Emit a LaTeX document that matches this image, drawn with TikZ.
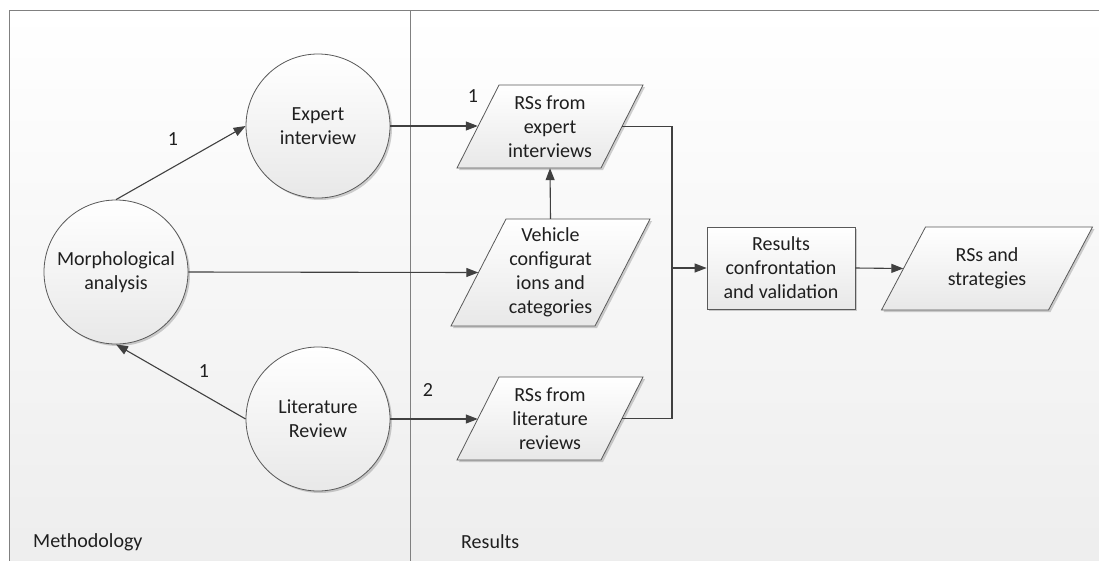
\documentclass[tikz,border=0pt]{standalone}
\usepackage{fontspec}
\setmainfont{Carlito}
\usetikzlibrary{arrows.meta,shadows}
\newcommand{\paraNode}[7]{% name, cx, cy, w, h, s, text
  \path[parfill] (#2-#4/2+#6/2, #3-#5/2) -- (#2+#4/2+#6/2, #3-#5/2) -- (#2+#4/2-#6/2, #3+#5/2) -- (#2-#4/2-#6/2, #3+#5/2) -- cycle;
  \node[txt, minimum width=#4pt, minimum height=#5pt, inner sep=0pt] (#1) at (#2,#3) {#7};
}
\begin{document}
\begin{tikzpicture}[x=1pt,y=-1pt,
  txt/.style={font=\fontsize{20}{24}\selectfont, text=black!88, align=center},
  shp/.style={draw=black!65, line width=0.8pt, top color=white, bottom color=black!9,
    drop shadow={shadow xshift=2pt, shadow yshift=-2pt, opacity=0.18, fill=black}},
  circ/.style={circle, shp, minimum size=144pt, inner sep=0pt, txt},
  parfill/.style={shp},
  boxst/.style={rectangle, shp, minimum width=148pt, minimum height=82pt, inner sep=0pt, txt},
  conn/.style={draw=black!75, line width=1.1pt},
  arr/.style={conn, -{Triangle[length=12pt,width=9pt]}},
  lbl/.style={txt, inner sep=0pt}
]
\useasboundingbox (0,0) rectangle (1099,560);
\clip (0,0) rectangle (1099,560);
% frame
\path[top color=white, bottom color=black!7] (9.5,10.5) rectangle (1110,570);
\draw[draw=black!50, line width=1pt] (1110,10.5) -- (9.5,10.5) -- (9.5,570);
\draw[draw=black!50, line width=1pt] (410.5,10.5) -- (410.5,570);
\node[lbl, anchor=west] (meth) at (33,542) {Methodology};
\node[lbl, anchor=west] (res) at (461,542) {Results};
% circles
\node[circ] (exp) at (318,126) {Expert\\interview};
\node[circ] (mor) at (116,272) {Morphological\\analysis};
\node[circ] (lit) at (318,419) {Literature\\Review};
% parallelograms
\paraNode{rse}{550}{126.5}{144}{83}{42}{RSs from\\expert\\interviews}
\paraNode{veh}{550.5}{272.5}{144}{107}{55}{Vehicle\\configurat\\ions and\\categories}
\paraNode{rsl}{550}{418.5}{144}{83}{42}{RSs from\\literature\\reviews}
\paraNode{rss}{987}{268.5}{167}{83}{44}{RSs and\\strategies}
% box
\node[boxst] (rcv) at (781,268) {Results\\confrontation\\and validation};
% labels
\node[lbl] (l1) at (173,139) {1};
\node[lbl] (l2) at (204,371) {1};
\node[lbl] (l3) at (473,96) {1};
\node[lbl] (l4) at (428,390) {2};
% connectors
\coordinate (j) at (672,268);
\draw[arr] (mor.north) -- (exp.west);
\draw[arr] (lit.west) -- (mor.south);
\draw[arr] (exp.east) -- (exp.east -| rse.west);
\draw[arr] (mor.east) -- (veh.west);
\draw[arr] (lit.east) -- (lit.east -| rsl.west);
\draw[arr] (veh.north) -- (rse.south);
\draw[conn] (rse.east) -| (j) |- (rsl.east);
\draw[arr] (j) -- (rcv.west);
\draw[arr] (rcv.east) -- (rss.west);
\end{tikzpicture}
\end{document}
